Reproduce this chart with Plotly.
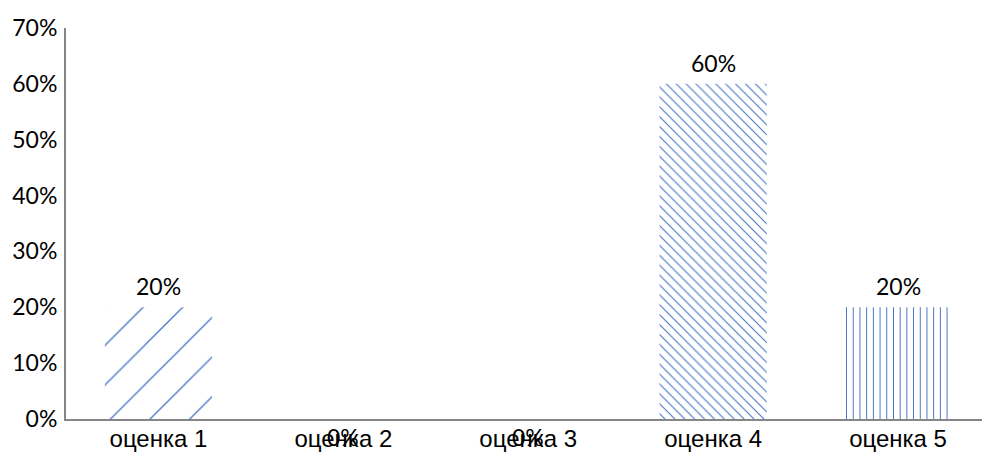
import plotly.graph_objects as go

# Share of answers for each grade
categories = ["оценка 1", "оценка 2", "оценка 3", "оценка 4", "оценка 5"]
shares = [0.20, 0.0, 0.0, 0.60, 0.20]
y_ticks = [0.0, 0.1, 0.2, 0.3, 0.4, 0.5, 0.6, 0.7]
y_tick_labels = ["0%", "10%", "20%", "30%", "40%", "50%", "60%", "70%"]

BLUE = "#4472C4"
AXIS_GREY = "#868686"

# Per-bar hatch styles
shapes = ["/", "", "", "\\", "|"]
sizes = [28, 8, 8, 7, 6.7]
solidities = [0.045, 0.1, 0.1, 0.15, 0.15]

fig = go.Figure(
    go.Bar(
        x=categories,
        y=shares,
        width=0.58,
        marker=dict(
            color="white",
            line=dict(width=0),
            pattern=dict(
                shape=shapes,
                size=sizes,
                solidity=solidities,
                fgcolor=BLUE,
                bgcolor="white",
                fillmode="replace",
            ),
        ),
        hoverinfo="skip",
    )
)

# Value labels: above the bar when positive, under the baseline when zero
for cat, val in zip(categories, shares):
    fig.add_annotation(
        x=cat,
        y=val,
        text=f"{val:.0%}",
        showarrow=False,
        yanchor="middle",
        yshift=21 if val > 0 else -18,
        font=dict(family="Lato", size=23, color="#000000"),
    )

fig.update_layout(
    width=982,
    height=452,
    margin=dict(l=66, r=0, t=28, b=33),
    paper_bgcolor="white",
    plot_bgcolor="white",
    showlegend=False,
)

fig.update_xaxes(
    type="category",
    range=[-0.5, 4.454],
    automargin=False,
    showline=True,
    linecolor=AXIS_GREY,
    linewidth=2,
    ticks="",
    showgrid=False,
    zeroline=False,
    ticklabelstandoff=-3,
    tickfont=dict(family="Liberation Sans", size=24, color="#000000"),
)

fig.update_yaxes(
    range=[0, 0.7],
    tickvals=y_ticks,
    ticktext=y_tick_labels,
    automargin=False,
    showline=True,
    linecolor=AXIS_GREY,
    linewidth=2,
    ticks="",
    showgrid=False,
    zeroline=False,
    ticklabelstandoff=2,
    tickfont=dict(family="Lato", size=23, color="#000000"),
)

fig.write_html("out.html")
